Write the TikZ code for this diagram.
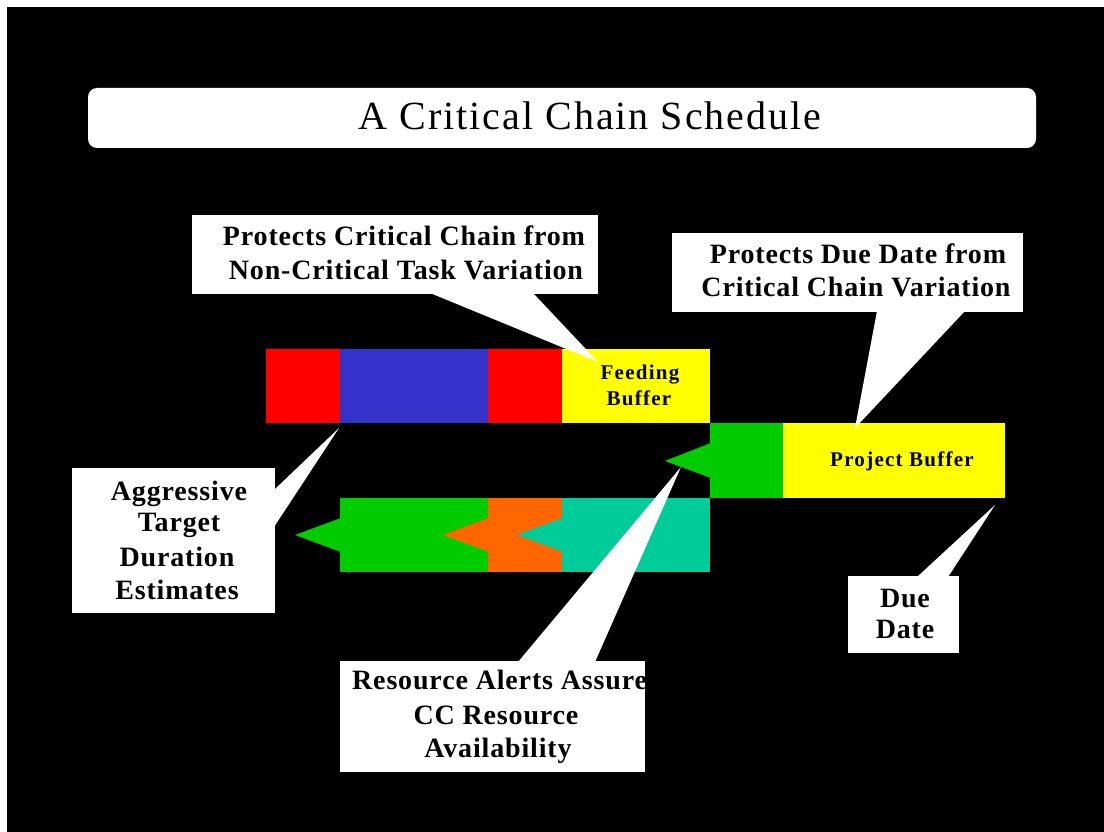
\documentclass[tikz,border=0pt]{standalone}
\usepackage{fontspec}
\setmainfont{Liberation Serif}
\newfontfamily\lblfont[LetterSpace=3]{Liberation Serif}
\newfontfamily\titlefont[LetterSpace=5]{Liberation Serif}
\newfontfamily\buffont[LetterSpace=6]{Liberation Serif}
\definecolor{cred}{HTML}{FF0000}
\definecolor{cblue}{HTML}{3333CC}
\definecolor{cyellow}{HTML}{FFFF00}
\definecolor{cgreen}{HTML}{00CC00}
\definecolor{corange}{HTML}{FF6600}
\definecolor{cteal}{HTML}{00CC99}
\begin{document}
\begin{tikzpicture}[x=1pt,y=-1pt,
  box/.style={fill=white, inner sep=0pt, outer sep=0pt},
  seg/.style={inner sep=0pt, outer sep=0pt, minimum height=74pt},
  lbl/.style={anchor=base, inner sep=0pt, font=\lblfont\fontsize{28}{33}\selectfont\bfseries},
  buf/.style={anchor=base, inner sep=0pt, font=\buffont\fontsize{21}{26}\selectfont\bfseries},
  wedge/.style={fill=white},
]
\fill[white] (0,0) rectangle (1104,832);
\fill[black] (7,7) rectangle (1104,832);
\useasboundingbox (0,0) rectangle (1104,832);

% title
\node[box, rounded corners=9pt, minimum width=948pt, minimum height=60pt] (title) at (562,118) {};
\node[anchor=base, inner sep=0pt, font=\titlefont\fontsize{40}{48}\selectfont] (titletext) at (590,130) {A Critical Chain Schedule};

% top bar
\node[seg, fill=cred, minimum width=74pt] (r1) at (303,386) {};
\node[seg, fill=cblue, minimum width=148pt] (b1) at (414,386) {};
\node[seg, fill=cred, minimum width=74pt] (r2) at (525,386) {};
\node[seg, fill=cyellow, minimum width=148pt] (fb) at (636,386) {};
\node[buf] (fbt1) at (640,379) {Feeding};
\node[buf] (fbt2) at (639,405) {Buffer};

% middle bar
\node[seg, fill=cgreen, minimum width=74pt, minimum height=75pt] (g2) at (747,460.5) {};
\node[seg, fill=cyellow, minimum width=222pt, minimum height=75pt] (pb) at (894,460.5) {};
\node[buf] (pbt) at (902,466) {Project Buffer};
\coordinate (g2a) at (711,443);
\coordinate (g2t) at (665,461);
\coordinate (g2b) at (711,478);
\fill[cgreen] (g2a) -- (g2t) -- (g2b) -- cycle;

% bottom bar
\node[seg, fill=cgreen, minimum width=148pt] (g1) at (414,535) {};
\node[seg, fill=corange, minimum width=74pt] (o1) at (525,535) {};
\node[seg, fill=cteal, minimum width=148pt] (t1) at (636,535) {};
\coordinate (g1a) at (341,518);
\coordinate (g1t) at (295,535);
\coordinate (g1b) at (341,552);
\fill[cgreen] (g1a) -- (g1t) -- (g1b) -- cycle;
\coordinate (o1a) at (489,518);
\coordinate (o1t) at (443,535);
\coordinate (o1b) at (489,552);
\fill[corange] (o1a) -- (o1t) -- (o1b) -- cycle;
\coordinate (t1a) at (563,518);
\coordinate (t1t) at (517,535);
\coordinate (t1b) at (563,552);
\fill[cteal] (t1a) -- (t1t) -- (t1b) -- cycle;

% callout 1: feeding buffer
\node[box, minimum width=406pt, minimum height=79pt] (c1) at (395,254.5) {};
\coordinate (c1a) at (430,293);
\coordinate (c1b) at (533,293);
\coordinate (c1t) at (598,362);
\fill[wedge] (c1a) -- (c1t) -- (c1b) -- cycle;
\node[lbl] (c1l1) at (404,245) {Protects Critical Chain from};
\node[lbl] (c1l2) at (406,279) {Non-Critical Task Variation};

% callout 2: project buffer
\node[box, minimum width=351pt, minimum height=79pt] (c2) at (847.5,272.5) {};
\coordinate (c2a) at (877,311);
\coordinate (c2b) at (965,311);
\coordinate (c2t) at (855,428);
\fill[wedge] (c2a) -- (c2t) -- (c2b) -- cycle;
\node[lbl] (c2l1) at (858,263) {Protects Due Date from};
\node[lbl] (c2l2) at (856,296) {Critical Chain Variation};

% callout 3: aggressive estimates
\node[box, minimum width=203pt, minimum height=145pt] (c3) at (173.5,540.5) {};
\coordinate (c3a) at (274,490);
\coordinate (c3b) at (274,527);
\coordinate (c3t) at (339,428);
\fill[wedge] (c3a) -- (c3t) -- (c3b) -- cycle;
\node[lbl] (c3l1) at (179,500) {Aggressive};
\node[lbl] (c3l2) at (179,531) {Target};
\node[lbl] (c3l3) at (177,566) {Duration};
\node[lbl] (c3l4) at (177,599) {Estimates};

% callout 4: resource alerts
\node[box, minimum width=305pt, minimum height=111pt] (c4) at (492.5,716.5) {};
\coordinate (c4a) at (518,662);
\coordinate (c4b) at (595,662);
\coordinate (c4t) at (681,467);
\fill[wedge] (c4a) -- (c4t) -- (c4b) -- cycle;
\node[lbl, anchor=base west] (c4l1) at (352,689) {Resource Alerts Assure};
\node[lbl] (c4l2) at (496,724) {CC Resource};
\node[lbl] (c4l3) at (498,757) {Availability};

% callout 5: due date
\node[box, minimum width=111pt, minimum height=77pt] (c5) at (903.5,614.5) {};
\coordinate (c5a) at (917,577);
\coordinate (c5b) at (948,577);
\coordinate (c5t) at (995,505);
\fill[wedge] (c5a) -- (c5t) -- (c5b) -- cycle;
\node[lbl] (c5l1) at (905,607) {Due};
\node[lbl] (c5l2) at (905,638) {Date};
\end{tikzpicture}
\end{document}
